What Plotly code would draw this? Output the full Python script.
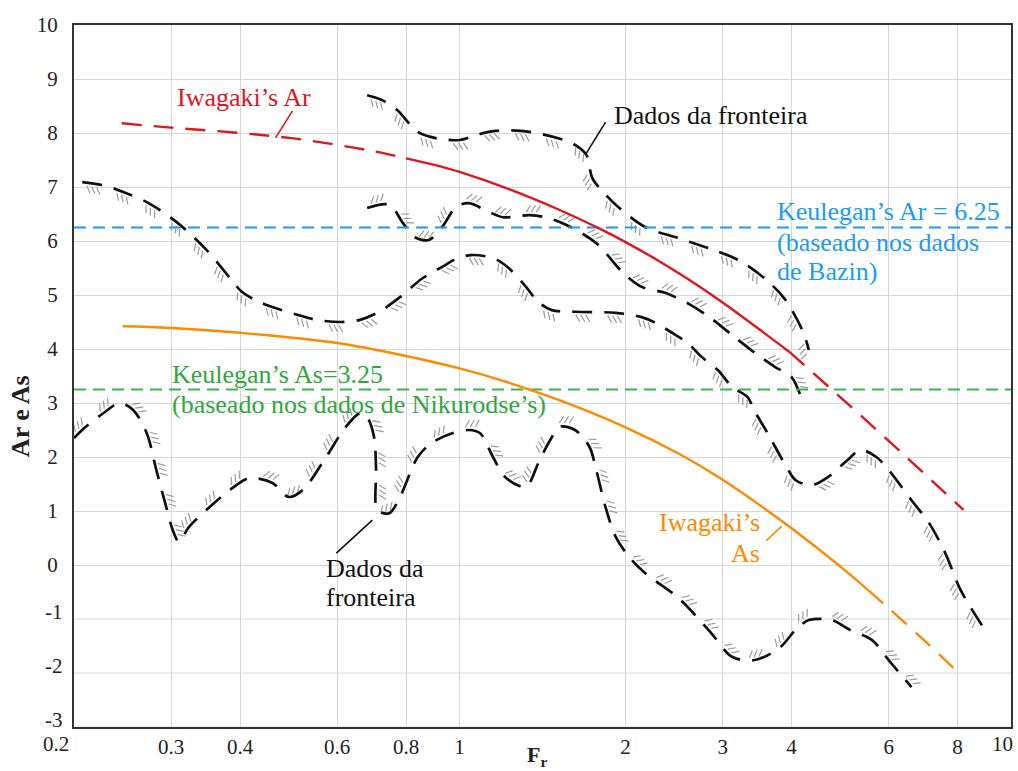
import math
import plotly.graph_objects as go

# ---------------- layout constants ----------------
W, H = 1018, 771
ML, MR, MT, MB = 74, 5, 25, 44
PW, PH = W - ML - MR, H - MT - MB
X_MIN, X_MAX = 0.2, 10.0
Y_MIN, Y_MAX = -3.0, 10.0
FONT = "Liberation Serif"

# ---------------- data ----------------
x_tick_vals = [0.2, 0.3, 0.4, 0.6, 0.8, 1, 2, 3, 4, 6, 8, 10]
x_tick_text = ["0.2", "0.3", "0.4", "0.6", "0.8", "1", "2", "3", "4", "6", "8", "10"]
y_tick_vals = [-3, -2, -1, 0, 1, 2, 3, 4, 5, 6, 7, 8, 9, 10]
y_tick_text = ["-3", "-2", "-1", "0", "1", "2", "3", "4", "5", "6", "7", "8", "9", "10"]

# Iwagaki's Ar (red): dashed / solid between 0.8 and 3.96 / dashed
iwagaki_ar_fr = [0.244, 0.3, 0.4, 0.5, 0.6, 0.7, 0.8, 0.9, 1.0, 1.23, 1.53, 1.81, 2.0,
                 2.29, 2.6, 3.0, 3.5, 3.96, 5.0, 6.0, 7.0, 8.2]
iwagaki_ar = [8.18, 8.10, 8.0, 7.9, 7.78, 7.66, 7.53, 7.41, 7.28, 6.96, 6.56, 6.21, 5.98,
              5.64, 5.29, 4.86, 4.36, 3.95, 3.03, 2.30, 1.67, 1.02]
iwagaki_ar_solid_from, iwagaki_ar_solid_to = 0.8, 3.96

# Iwagaki's As (orange): solid up to 5.5, dashed beyond
iwagaki_as_fr = [0.245, 0.3, 0.4, 0.6, 0.8, 1.0, 1.2, 1.5, 2.0, 2.5, 3.0, 4.0, 5.0, 5.5,
                 6.0, 7.0, 8.0]
iwagaki_as = [4.42, 4.39, 4.30, 4.11, 3.87, 3.64, 3.41, 3.07, 2.55, 2.06, 1.58, 0.68,
              -0.10, -0.46, -0.80, -1.42, -1.98]
iwagaki_as_solid_to = 5.5

keulegan_ar = 6.25
keulegan_as = 3.25

# boundary of Ar data: upper edge (hatched below) and lower edge (hatched above)
bound_a_fr = [0.68, 0.72, 0.77, 0.84, 0.91, 1.0, 1.07, 1.16, 1.34, 1.6, 1.70, 1.74, 1.81,
              1.94, 2.17, 2.5, 2.86, 3.2, 3.6, 3.9, 4.2, 4.3]
bound_a = [8.70, 8.62, 8.43, 8.02, 7.90, 7.87, 7.96, 8.04, 8.02, 7.81, 7.59, 7.17, 6.94,
           6.63, 6.26, 6.05, 5.85, 5.65, 5.28, 4.91, 4.31, 3.98]

bound_b_fr = [0.68, 0.746, 0.79, 0.83, 0.88, 0.93, 0.986, 1.04, 1.13, 1.2, 1.34, 1.43,
              1.56, 1.77, 1.98, 2.14, 2.36, 2.6, 2.83, 3.12, 3.43, 3.73, 4.0, 4.18]
bound_b = [6.61, 6.67, 6.33, 6.07, 6.02, 6.26, 6.63, 6.70, 6.54, 6.44, 6.48, 6.44,
           6.30, 5.96, 5.41, 5.15, 5.04, 4.84, 4.60, 4.26, 3.93, 3.67, 3.48, 3.05]

# boundary of As data: upper edge (hatched below) and lower edge (hatched above)
bound_c_fr = [0.207, 0.229, 0.245, 0.271, 0.307, 0.348, 0.386, 0.403, 0.438, 0.51, 0.55,
              0.61, 0.66, 0.715, 0.78, 0.857, 0.93, 0.986, 1.05, 1.16, 1.24, 1.32, 1.39,
              1.47, 1.62, 1.92, 2.14, 2.27, 2.42, 2.6, 2.75, 2.94, 3.12, 3.33, 3.42, 3.62,
              3.92, 4.07, 4.36, 4.66, 5.05, 5.33, 5.7, 6.0, 6.6, 7.1, 7.6, 8.1, 8.9]
bound_c = [7.09, 7.02, 6.91, 6.72, 6.35, 5.83, 5.28, 5.06, 4.85, 4.63, 4.54,
           4.50, 4.54, 4.69, 4.96, 5.31, 5.52, 5.67, 5.74, 5.67, 5.46, 5.15, 4.87,
           4.72, 4.69, 4.67, 4.59, 4.48, 4.31, 4.10, 3.85, 3.61, 3.30, 3.11, 2.87, 2.44,
           1.81, 1.57, 1.48, 1.63, 1.94, 2.13, 2.0, 1.76, 1.20, 0.78, 0.22, -0.46, -1.15]

bound_d_fr = [0.2, 0.21, 0.226, 0.242, 0.256, 0.271, 0.282, 0.294, 0.302, 0.31, 0.323,
              0.352, 0.394, 0.416, 0.458, 0.49, 0.52, 0.573, 0.62, 0.66, 0.68, 0.70,
              0.706, 0.71, 0.746, 0.78, 0.84, 0.89, 0.97, 1.04, 1.09, 1.15, 1.21, 1.31,
              1.34, 1.39, 1.46, 1.52, 1.62, 1.72, 1.77, 1.84, 1.92, 2.03, 2.17, 2.5,
              2.86, 3.12, 3.43, 3.8, 4.07, 4.3, 4.73, 5.1, 5.6, 6.0, 6.6]
bound_d = [2.35, 2.56, 2.81, 3.0, 2.87, 2.44, 1.76, 1.07, 0.65, 0.43, 0.70,
           1.07, 1.48, 1.61, 1.52, 1.26, 1.39, 2.0, 2.54, 2.81, 2.74, 2.37,
           1.76, 1.02, 0.96, 1.26, 2.0, 2.26, 2.44, 2.5, 2.44, 2.0, 1.63, 1.44,
           1.52, 1.89, 2.31, 2.56, 2.5, 2.19, 1.76, 1.07, 0.52, 0.15, -0.15, -0.62,
           -1.26, -1.7, -1.76, -1.54, -1.2, -1.02, -1.02, -1.2, -1.39, -1.76, -2.26]

# ---------------- helpers ----------------
LX0, LX1 = math.log10(X_MIN), math.log10(X_MAX)


def to_px(fr, v):
    return (ML + (math.log10(fr) - LX0) / (LX1 - LX0) * PW,
            MT + (Y_MAX - v) / (Y_MAX - Y_MIN) * PH)


def to_data(px, py):
    return (10 ** (LX0 + (px - ML) / PW * (LX1 - LX0)),
            Y_MAX - (py - MT) / PH * (Y_MAX - Y_MIN))


def densify(pts, n=12):
    out = []
    for i in range(len(pts) - 1):
        p0 = pts[i - 1] if i > 0 else pts[i]
        p1, p2 = pts[i], pts[i + 1]
        p3 = pts[i + 2] if i + 2 < len(pts) else pts[i + 1]
        for k in range(n):
            t = k / n
            t2, t3 = t * t, t * t * t
            out.append(tuple(0.5 * ((2 * p1[j]) + (-p0[j] + p2[j]) * t +
                                    (2 * p0[j] - 5 * p1[j] + 4 * p2[j] - p3[j]) * t2 +
                                    (-p0[j] + 3 * p1[j] - 3 * p2[j] + p3[j]) * t3)
                             for j in range(2)))
    out.append(pts[-1])
    return out


def hatch(frs, vals, side, dash=20, gap=12):
    pts = densify([to_px(f, v) for f, v in zip(frs, vals)])
    seg = [0.0]
    for i in range(1, len(pts)):
        seg.append(seg[-1] + math.hypot(pts[i][0] - pts[i - 1][0], pts[i][1] - pts[i - 1][1]))
    hx, hy = [], []
    s = dash / 2
    i = 1
    ang = math.radians(32)
    while s < seg[-1]:
        while i < len(seg) - 1 and seg[i] < s:
            i += 1
        a, b = pts[i - 1], pts[i]
        L = max(seg[i] - seg[i - 1], 1e-9)
        f = (s - seg[i - 1]) / L
        p = (a[0] + (b[0] - a[0]) * f, a[1] + (b[1] - a[1]) * f)
        tx, ty = (b[0] - a[0]) / L, (b[1] - a[1]) / L
        nx, ny = -ty * side, tx * side
        dx = nx * math.cos(ang) + tx * math.sin(ang)
        dy = ny * math.cos(ang) + ty * math.sin(ang)
        for j in (-1, 0, 1):
            bx = p[0] + tx * 5 * j + nx * 3
            by = p[1] + ty * 5 * j + ny * 3
            for q in ((bx, by), (bx + dx * 8, by + dy * 8)):
                d = to_data(*q)
                hx.append(d[0])
                hy.append(d[1])
            hx.append(None)
            hy.append(None)
        s += dash + gap
    return hx, hy


def seg_between(frs, vals, lo, hi):
    xs = [f for f in frs if lo <= f <= hi]
    ys = [v for f, v in zip(frs, vals) if lo <= f <= hi]
    return xs, ys


fig = go.Figure()

# hatching (gray)
for frs, vals, side in ((bound_a_fr, bound_a, 1), (bound_b_fr, bound_b, -1),
                        (bound_c_fr, bound_c, 1), (bound_d_fr, bound_d, -1)):
    hx, hy = hatch(frs, vals, side)
    fig.add_trace(go.Scatter(x=hx, y=hy, mode="lines", hoverinfo="skip",
                             line=dict(color="#9c9c9c", width=1.2)))

# boundary curves (black dashed)
for frs, vals in ((bound_a_fr, bound_a), (bound_b_fr, bound_b),
                  (bound_c_fr, bound_c), (bound_d_fr, bound_d)):
    fig.add_trace(go.Scatter(x=frs, y=vals, mode="lines",
                             line=dict(color="#111111", width=2.7, dash="20px,12px",
                                       shape="spline", smoothing=0.9)))

BLUE = "#1a9cf0"
GREEN = "#3cb44b"
GREEN_TXT = "#2ea83c"
RED = "#e0161e"
ORANGE = "#ff8a00"

# Keulegan horizontal lines
fig.add_trace(go.Scatter(x=[X_MIN, X_MAX], y=[keulegan_ar, keulegan_ar], mode="lines",
                         line=dict(color=BLUE, width=2, dash="12px,7px")))
fig.add_trace(go.Scatter(x=[X_MIN, X_MAX], y=[keulegan_as, keulegan_as], mode="lines",
                         line=dict(color=GREEN, width=2, dash="12px,7px")))

# Iwagaki's Ar
for lo, hi, dash in ((0, iwagaki_ar_solid_from, "20px,12px"),
                     (iwagaki_ar_solid_from, iwagaki_ar_solid_to, "solid"),
                     (iwagaki_ar_solid_to, 100, "20px,12px")):
    xs, ys = seg_between(iwagaki_ar_fr, iwagaki_ar, lo, hi)
    fig.add_trace(go.Scatter(x=xs, y=ys, mode="lines",
                             line=dict(color=RED, width=2.4, dash=dash, shape="spline")))
# Iwagaki's As
for lo, hi, dash in ((0, iwagaki_as_solid_to, "solid"),
                     (iwagaki_as_solid_to, 100, "20px,12px")):
    xs, ys = seg_between(iwagaki_as_fr, iwagaki_as, lo, hi)
    fig.add_trace(go.Scatter(x=xs, y=ys, mode="lines",
                             line=dict(color=ORANGE, width=2.4, dash=dash, shape="spline")))

# leader lines
leaders = [
    ((0.498, 0.464), (8.41, 7.91), RED),
    ((1.84, 1.69), (8.20, 7.59), "#111111"),
    ((3.84, 3.60), (0.72, 0.45), ORANGE),
    ((0.695, 0.598), (0.83, 0.22), "#111111"),
]
for xs, ys, c in leaders:
    fig.add_trace(go.Scatter(x=list(xs), y=list(ys), mode="lines",
                             line=dict(color=c, width=1.6)))

ANN = 26


def label(text, fr, v, color, xanchor="left"):
    fig.add_annotation(x=math.log10(fr), y=v, xref="x", yref="y", text=text,
                       showarrow=False, xanchor=xanchor, yanchor="middle",
                       font=dict(family=FONT, size=ANN, color=color))


label("Iwagaki’s Ar", 0.305, 8.65, RED)
label("Dados da fronteira", 1.89, 8.33, "#111111")
label("Keulegan’s Ar = 6.25", 3.73, 6.54, BLUE)
label("(baseado nos dados", 3.73, 5.98, BLUE)
label("de Bazin)", 3.73, 5.44, BLUE)
label("Keulegan’s As=3.25", 0.298, 3.52, GREEN_TXT)
label("(baseado nos dados de Nikurodse’s)", 0.298, 2.98, GREEN_TXT)
label("Iwagaki’s", 3.54, 0.78, ORANGE, "right")
label("As", 3.54, 0.22, ORANGE, "right")
label("Dados da", 0.569, -0.06, "#111111")
label("fronteira", 0.569, -0.61, "#111111")

TICK = 21
TXT = "#222222"
# end tick labels of the x axis, kept inside the figure
for v, t, shift in ((x_tick_vals[0], x_tick_text[0], -3), (x_tick_vals[-1], x_tick_text[-1], 4)):
    fig.add_annotation(x=math.log10(v), y=0, xref="x", yref="paper", text=t,
                       showarrow=False, xanchor="right", yanchor="top", xshift=shift,
                       yshift=-3, font=dict(family=FONT, size=TICK, color=TXT))
# negative y tick labels sit slightly above their grid lines
neg = [(v, t) for v, t in zip(y_tick_vals, y_tick_text) if v < 0]
pos = [(v, t) for v, t in zip(y_tick_vals, y_tick_text) if v >= 0]
for v, t in neg:
    fig.add_annotation(x=0, y=v, xref="paper", yref="y", text=t, showarrow=False,
                       xanchor="right", yanchor="middle", xshift=-9, yshift=7,
                       font=dict(family=FONT, size=TICK, color=TXT))

# axis titles
fig.add_annotation(x=-0.0575, y=0.443, xref="paper", yref="paper", text="<b>Ar e As</b>",
                   showarrow=False, textangle=-90, xanchor="center", yanchor="middle",
                   font=dict(family=FONT, size=26, color=TXT))
fig.add_annotation(x=(538 - ML) / PW, y=-(756 - MT - PH) / PH, xref="paper", yref="paper",
                   text="<b>F<sub>r</sub></b>", showarrow=False, xanchor="center",
                   yanchor="middle", font=dict(family=FONT, size=22, color=TXT))

fig.update_layout(
    width=W, height=H, margin=dict(l=ML, r=MR, t=MT, b=MB),
    paper_bgcolor="white", plot_bgcolor="white", showlegend=False,
    font=dict(family=FONT, size=TICK, color=TXT),
)
fig.update_xaxes(type="log", range=[LX0, LX1], tickvals=x_tick_vals[1:-1],
                 ticktext=x_tick_text[1:-1],
                 showgrid=True, gridcolor="#d6d6d6", gridwidth=1, zeroline=False,
                 showline=True, linecolor="#333333", linewidth=2, mirror=True,
                 ticks="", ticklabelstandoff=0)
fig.update_yaxes(range=[Y_MIN, Y_MAX], tickvals=[v for v, _ in pos], ticktext=[t for _, t in pos],
                 showgrid=True, gridcolor="#d6d6d6", gridwidth=1, zeroline=False,
                 showline=True, linecolor="#333333", linewidth=2, mirror=True,
                 ticks="", ticklabelstandoff=10)
# grid lines for the negative values (labels drawn above)
for v, _ in neg:
    fig.add_hline(y=v, line=dict(color="#d6d6d6", width=1), layer="below")

fig.write_html("out.html")
